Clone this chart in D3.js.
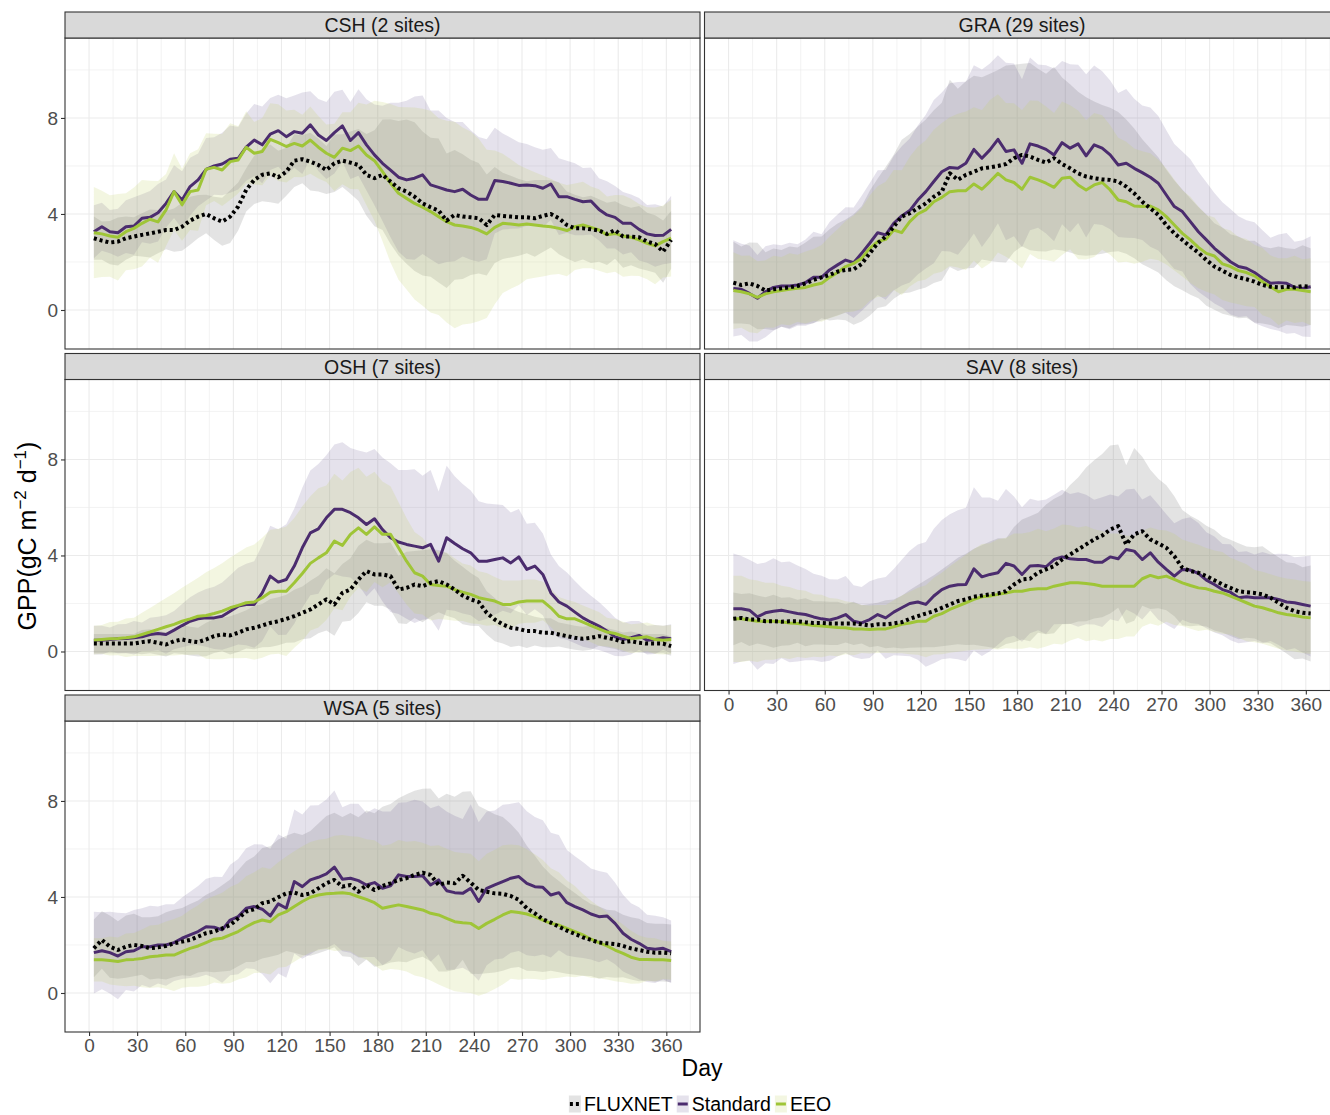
<!DOCTYPE html>
<html>
<head>
<meta charset="utf-8">
<script src="https://cdn.jsdelivr.net/npm/d3@7"></script>
<style>
body { margin: 0; background: #fff; }
svg text { font-family: "Liberation Sans", Arial, Helvetica, sans-serif; }
</style>
</head>
<body>
<div id="chart"></div>
<script>
// day of year, centre of each 5-day composite
const days = [3,8,13,18,23,28,33,38,43,48,53,58,63,68,73,78,83,88,93,98,103,108,113,118,123,128,133,138,143,148,153,158,163,168,173,178,
  183,188,193,198,203,208,213,218,223,228,233,238,243,248,253,258,263,268,273,278,283,288,293,298,303,308,313,318,323,328,333,338,343,348,353,358,363];

const xTicks = [0,30,60,90,120,150,180,210,240,270,300,330,360];
const yTicks = [0,4,8];
const panelNames = ["CSH (2 sites)", "GRA (29 sites)", "OSH (7 sites)", "SAV (8 sites)", "WSA (5 sites)"];
const seriesNames = ["FLUXNET", "Standard", "EEO"];

// ---- CSH ----
const csh_flux = [2.99,2.89,2.81,2.85,2.99,3.06,3.13,3.19,3.26,3.33,3.33,3.47,3.72,3.89,4.0,3.82,3.68,3.89,4.31,5.0,5.42,5.63,5.69,5.53,5.76,6.22,6.28,6.18,6.04,5.83,6.11,6.22,6.14,6.04,5.63,5.49,
  5.63,5.35,5.07,4.93,4.72,4.44,4.28,4.14,3.72,3.96,3.89,3.86,3.82,3.54,3.96,3.92,3.89,3.86,3.86,3.82,3.92,4.0,3.82,3.54,3.4,3.4,3.36,3.31,3.17,3.33,3.06,3.06,3.03,2.85,2.75,2.43,2.92];
const csh_std = [3.26,3.47,3.26,3.22,3.47,3.5,3.82,3.86,4.05,4.44,4.93,4.58,5.14,5.42,5.86,6.0,6.08,6.28,6.32,6.78,7.08,6.88,7.33,7.47,7.22,7.43,7.36,7.71,7.29,7.06,7.39,7.67,7.06,7.39,6.88,6.46,
  6.11,5.83,5.53,5.42,5.49,5.63,5.21,5.11,5.0,4.93,5.03,4.79,4.61,4.61,5.39,5.35,5.28,5.19,5.21,5.18,5.07,5.25,4.72,4.72,4.61,4.51,4.54,4.19,3.96,3.86,3.61,3.61,3.36,3.17,3.1,3.11,3.36];
const csh_eeo = [3.22,3.17,3.08,3.03,3.26,3.4,3.61,3.78,3.67,4.17,4.93,4.38,4.93,5.0,5.86,5.94,5.83,6.18,6.25,6.78,6.53,6.6,7.11,6.97,6.81,6.94,6.83,7.08,6.78,6.53,6.36,6.74,6.64,6.83,6.46,6.22,
  5.76,5.28,4.86,4.65,4.44,4.28,4.1,3.89,3.68,3.54,3.5,3.44,3.33,3.17,3.44,3.61,3.58,3.54,3.58,3.54,3.5,3.47,3.4,3.31,3.47,3.54,3.44,3.33,3.13,3.19,3.08,3.03,2.92,2.78,2.67,2.85,2.99];
const csh_flux_sd = [0.9,0.8,0.9,1.0,0.9,0.8,0.9,1.0,0.9,0.8,0.9,1.0, 1.0,0.9,0.8,0.9,1.0,1.1,1.0,0.9,1.0,1.1,1.2,1.1,
  1.0,1.1,1.0,1.2,1.1,1.0,1.2,1.1,1.3,1.5,1.7,2.0, 2.3,2.6,2.8,3.0,3.1,3.0,2.9,3.0,2.8,2.7,2.6,2.4,
  2.3,2.1,2.0,1.8,1.7,1.6,1.5,1.6,1.5,1.4,1.5,1.4, 1.4,1.3,1.4,1.3,1.3,1.2,1.3,1.2,1.3,1.2,1.2,1.3,1.2];
const csh_std_sd = [1.1,1.0,0.9,1.0,1.1,1.2,1.0,1.1,1.2,1.0,1.1,1.2, 1.2,1.1,1.3,1.2,1.3,1.4,1.3,1.4,1.5,1.6,1.5,1.5,
  1.6,1.5,1.7,1.4,1.5,1.6,1.7,1.5,1.6,1.8,1.9,2.1, 2.4,2.8,3.1,3.3,3.4,3.3,3.1,3.2,3.0,2.9,2.8,2.7,
  2.6,2.5,2.2,2.0,1.9,1.8,1.7,1.6,1.6,1.5,1.6,1.5, 1.5,1.4,1.4,1.3,1.4,1.3,1.3,1.2,1.3,1.2,1.3,1.2,1.4];
const csh_eeo_sd = [1.9,1.8,1.7,1.8,1.6,1.7,1.8,1.6,1.7,1.5,1.6,1.5, 1.6,1.7,1.5,1.4,1.5,1.6,1.4,1.5,1.3,1.4,1.5,1.6,
  1.5,1.4,1.3,1.4,1.3,1.2,1.4,1.5,1.6,1.8,2.1,2.5, 2.9,3.3,3.6,3.8,4.0,4.1,4.2,4.1,4.2,4.3,4.1,4.0,
  3.8,3.5,3.2,2.9,2.7,2.5,2.3,2.2,2.1,2.0,1.9,1.9, 1.8,1.8,1.7,1.7,1.6,1.6,1.7,1.6,1.5,1.5,1.6,1.5,1.6];

// ---- GRA ----
const gra_flux = [1.14,1.04,1.11,1.0,0.81,0.86,0.9,0.94,1.0,1.11,1.25,1.36,1.46,1.6,1.67,1.69,1.92,2.36,2.78,3.06,3.47,3.89,4.03,4.24,4.44,4.72,4.93,5.69,5.42,5.63,5.76,5.9,5.94,6.0,6.08,6.32,
  6.46,6.39,6.25,6.14,6.32,6.08,5.9,5.69,5.56,5.49,5.44,5.42,5.35,5.14,4.86,4.51,4.24,3.96,3.54,3.19,2.92,2.64,2.39,2.08,1.81,1.64,1.46,1.36,1.28,1.18,1.04,0.97,0.94,0.97,0.94,1.0,0.97];
const gra_std = [0.9,0.86,0.69,0.49,0.76,0.94,1.0,1.0,1.04,1.14,1.36,1.36,1.67,1.88,2.08,1.97,2.36,2.78,3.22,3.13,3.61,3.92,4.14,4.58,4.93,5.35,5.76,5.94,5.9,6.11,6.69,6.32,6.67,7.11,6.6,6.67,
  6.11,6.92,6.83,6.69,6.46,6.97,6.74,6.92,6.42,6.88,6.74,6.46,6.04,6.11,5.9,5.72,5.53,5.28,4.79,4.31,4.1,3.68,3.26,2.92,2.57,2.29,2.01,1.81,1.74,1.56,1.32,1.11,1.14,1.11,0.94,0.9,0.97];
const gra_eeo = [0.81,0.76,0.67,0.53,0.67,0.76,0.81,0.86,0.9,0.94,1.04,1.11,1.36,1.56,1.81,1.94,2.15,2.57,2.85,2.94,3.33,3.22,3.68,4.0,4.17,4.51,4.69,4.93,4.97,4.97,5.25,5.03,5.35,5.69,5.42,5.31,
  5.03,5.53,5.42,5.28,5.11,5.49,5.53,5.21,5.0,5.21,5.31,5.0,4.58,4.51,4.33,4.31,4.33,4.17,3.89,3.54,3.19,2.92,2.61,2.36,2.25,1.92,1.81,1.64,1.56,1.42,1.18,0.97,0.76,0.86,0.86,0.81,0.76];
const gra_flux_sd = [1.7,1.6,1.7,1.8,1.6,1.7,1.6,1.7,1.6,1.7,1.8,1.7, 1.9,2.0,2.1,2.3,2.4,2.6,2.7,2.9,3.0,3.2,3.3,3.4,
  3.5,3.6,3.7,3.9,3.8,3.9,4.0,3.8,3.9,4.0,4.1,3.9, 3.8,3.9,3.8,3.7,3.8,3.6,3.5,3.4,3.3,3.2,3.1,3.0,
  2.9,2.8,2.7,2.6,2.5,2.4,2.3,2.2,2.1,2.0,1.9,1.9, 1.8,1.8,1.7,1.7,1.6,1.7,1.6,1.6,1.7,1.6,1.6,1.7,1.6];
const gra_std_sd = [2.0,1.9,2.0,1.8,1.9,1.8,1.7,1.8,1.7,1.8,1.9,1.8, 2.0,2.1,2.2,2.3,2.4,2.5,2.6,2.7,2.8,2.9,3.0,3.1,
  3.2,3.4,3.3,3.5,3.6,3.4,3.5,3.7,3.6,3.5,3.7,3.6, 3.5,3.6,3.4,3.5,3.6,3.4,3.5,3.3,3.4,3.3,3.2,3.1,
  3.0,3.1,2.9,2.8,2.9,2.8,2.7,2.6,2.5,2.6,2.5,2.4, 2.3,2.2,2.2,2.1,2.0,2.1,2.0,1.9,2.0,2.1,1.9,2.0,2.1];
const gra_eeo_sd = [1.6,1.5,1.6,1.5,1.4,1.5,1.4,1.5,1.4,1.5,1.5,1.6, 1.7,1.8,1.9,2.0,2.1,2.2,2.3,2.4,2.5,2.6,2.7,2.8,
  2.9,3.0,3.1,3.1,3.2,3.3,3.2,3.3,3.4,3.3,3.2,3.3, 3.3,3.2,3.3,3.2,3.1,3.2,3.0,3.1,2.9,3.0,2.8,2.7,
  2.6,2.5,2.4,2.3,2.2,2.1,2.0,1.9,1.8,1.8,1.7,1.6, 1.6,1.5,1.5,1.4,1.4,1.3,1.4,1.3,1.4,1.3,1.4,1.3,1.4];

// ---- OSH ----
const osh_flux = [0.33,0.33,0.33,0.33,0.33,0.33,0.39,0.43,0.36,0.29,0.43,0.5,0.43,0.39,0.5,0.64,0.71,0.67,0.78,0.92,0.99,1.08,1.19,1.26,1.36,1.47,1.61,1.75,1.96,2.17,1.96,2.44,2.58,3.0,3.35,3.21,
  3.21,3.14,2.58,2.65,2.79,2.72,2.86,2.93,2.79,2.58,2.33,2.17,2.06,1.61,1.33,1.13,0.99,0.94,0.85,0.85,0.78,0.78,0.71,0.64,0.57,0.53,0.57,0.64,0.57,0.5,0.39,0.43,0.36,0.33,0.33,0.33,0.22];
const osh_std = [0.47,0.47,0.5,0.53,0.54,0.57,0.61,0.71,0.75,0.71,0.89,1.08,1.26,1.36,1.4,1.4,1.47,1.68,1.89,1.96,1.96,2.44,3.14,2.89,3.0,3.56,4.32,4.94,5.11,5.57,5.92,5.92,5.78,5.57,5.29,5.53,
  5.08,4.74,4.56,4.46,4.39,4.32,4.46,3.76,4.74,4.5,4.28,4.11,3.76,3.76,3.83,3.9,3.69,3.94,3.42,3.56,3.21,2.44,2.06,1.89,1.64,1.4,1.22,1.06,0.85,0.61,0.5,0.57,0.67,0.47,0.5,0.57,0.53];
const osh_eeo = [0.47,0.5,0.53,0.54,0.57,0.61,0.71,0.81,0.92,1.03,1.13,1.26,1.36,1.47,1.5,1.58,1.68,1.82,1.92,2.03,2.06,2.24,2.47,2.51,2.51,2.86,3.25,3.67,3.9,4.11,4.6,4.42,4.88,5.15,4.88,5.19,
  4.88,4.88,4.32,3.76,3.28,3.14,2.79,2.75,2.72,2.58,2.47,2.38,2.24,2.17,2.1,1.96,1.96,2.06,2.1,2.1,2.1,1.82,1.47,1.36,1.36,1.22,1.08,0.94,0.81,0.75,0.64,0.53,0.57,0.61,0.5,0.47,0.5];
const osh_flux_sd = [0.4,0.4,0.4,0.4,0.4,0.4,0.5,0.5,0.5,0.5,0.5,0.6, 0.6,0.6,0.7,0.7,0.7,0.8,0.8,0.8,0.9,0.9,1.0,1.0,
  1.0,1.1,1.1,1.2,1.2,1.3,1.3,1.2,1.3,1.4,1.3,1.3, 1.3,1.4,1.4,1.5,1.4,1.5,1.4,1.3,1.3,1.2,1.2,1.1,
  1.0,0.9,0.9,0.8,0.8,0.7,0.7,0.6,0.6,0.6,0.5,0.5, 0.5,0.5,0.5,0.4,0.4,0.4,0.4,0.4,0.4,0.4,0.4,0.4,0.4];
const osh_std_sd = [0.6,0.6,0.5,0.6,0.6,0.7,0.6,0.7,0.7,0.8,0.8,0.9, 1.0,1.1,1.2,1.3,1.4,1.5,1.6,1.7,1.8,2.0,2.1,2.2,
  2.3,2.4,2.5,2.6,2.7,2.6,2.7,2.8,2.7,2.8,3.0,2.9, 3.0,3.1,3.0,3.1,3.2,3.0,3.1,2.9,3.0,2.8,2.7,2.6,
  2.5,2.4,2.3,2.2,2.1,2.0,1.9,1.8,1.7,1.6,1.5,1.4, 1.3,1.2,1.1,1.0,0.9,0.8,0.7,0.7,0.6,0.6,0.6,0.5,0.6];
const osh_eeo_sd = [0.6,0.6,0.7,0.7,0.8,0.8,0.9,1.0,1.1,1.2,1.3,1.4, 1.5,1.6,1.8,1.9,2.0,2.1,2.2,2.3,2.4,2.5,2.6,2.6,
  2.7,2.7,2.8,2.8,2.9,2.8,2.8,2.7,2.6,2.5,2.4,2.3, 2.2,2.0,1.9,1.8,1.7,1.6,1.5,1.4,1.4,1.3,1.2,1.2,
  1.1,1.1,1.0,1.0,1.0,0.9,0.9,0.9,0.8,0.8,0.8,0.8, 0.7,0.7,0.7,0.7,0.6,0.6,0.6,0.6,0.6,0.6,0.6,0.6,0.6];

// ---- SAV ----
const sav_flux = [1.36,1.4,1.33,1.33,1.26,1.26,1.24,1.26,1.26,1.22,1.19,1.19,1.17,1.17,1.17,1.17,1.13,1.08,1.13,1.13,1.17,1.22,1.36,1.47,1.58,1.68,1.82,1.96,2.1,2.17,2.28,2.33,2.38,2.42,2.51,2.79,
  3.0,3.03,3.28,3.42,3.56,3.83,4.04,4.25,4.46,4.67,4.83,5.08,5.22,4.46,4.88,5.01,4.67,4.5,4.32,3.97,3.49,3.35,3.28,3.14,2.97,2.79,2.65,2.51,2.47,2.44,2.38,2.24,2.03,1.82,1.68,1.61,1.58];
const sav_std = [1.78,1.78,1.72,1.44,1.61,1.68,1.72,1.65,1.58,1.54,1.44,1.36,1.31,1.4,1.54,1.26,1.19,1.33,1.54,1.4,1.64,1.82,2.0,2.06,1.96,2.31,2.58,2.72,2.78,2.79,3.44,3.11,3.21,3.28,3.67,3.56,
  3.21,3.56,3.58,3.53,3.83,3.94,3.86,3.83,3.83,3.72,3.72,3.94,3.86,4.25,4.18,3.83,4.11,3.72,3.42,3.14,3.42,3.39,3.25,2.97,2.79,2.58,2.47,2.24,2.28,2.24,2.24,2.24,2.17,2.06,2.03,1.96,1.89];
const sav_eeo = [1.36,1.36,1.31,1.26,1.26,1.26,1.24,1.19,1.17,1.13,1.08,1.06,1.03,1.0,0.99,0.94,0.94,0.92,0.94,0.94,1.03,1.13,1.19,1.26,1.26,1.47,1.58,1.75,1.89,2.03,2.17,2.28,2.31,2.38,2.44,2.51,
  2.51,2.58,2.61,2.61,2.72,2.79,2.86,2.86,2.83,2.79,2.72,2.72,2.72,2.72,2.72,3.03,3.17,3.07,3.14,3.0,2.86,2.75,2.65,2.61,2.51,2.44,2.31,2.17,2.03,1.89,1.82,1.72,1.61,1.54,1.5,1.44,1.4];
const sav_flux_sd = [1.1,1.0,1.1,1.0,1.0,1.1,1.0,1.0,0.9,1.0,0.9,0.9, 0.9,0.9,0.8,0.9,0.8,0.9,0.9,1.0,1.0,1.1,1.2,1.3,
  1.4,1.5,1.6,1.7,1.8,1.9,2.0,2.1,2.2,2.3,2.2,2.4, 2.5,2.6,2.5,2.7,2.8,2.7,2.9,3.0,3.2,3.3,3.4,3.5,
  3.4,3.3,3.6,3.1,2.9,2.7,2.6,2.5,2.4,2.3,2.2,2.1, 2.1,2.0,2.0,2.0,1.9,1.9,2.0,1.9,1.9,1.9,2.0,1.9,2.0];
const sav_std_sd = [2.3,2.2,2.1,2.2,2.1,2.2,2.0,2.1,2.0,1.9,1.8,1.8, 1.7,1.6,1.6,1.5,1.5,1.6,1.5,1.7,1.8,2.0,2.2,2.4,
  2.6,2.8,2.9,3.0,3.1,3.2,3.4,3.3,3.2,3.0,3.1,2.9, 2.8,2.8,2.7,2.8,2.7,2.8,2.7,2.8,2.7,2.6,2.7,2.6,
  2.6,2.5,2.6,2.5,2.4,2.4,2.3,2.2,2.1,2.2,2.1,2.0, 2.0,1.9,2.0,1.9,1.9,1.8,1.9,1.8,1.9,2.0,1.9,2.0,2.1];
const sav_eeo_sd = [1.8,1.8,1.7,1.7,1.6,1.6,1.5,1.5,1.4,1.4,1.3,1.3, 1.2,1.2,1.1,1.1,1.0,1.0,1.0,1.0,1.1,1.2,1.3,1.4,
  1.5,1.6,1.7,1.8,1.9,2.0,2.1,2.2,2.2,2.3,2.3,2.4, 2.4,2.4,2.5,2.4,2.4,2.5,2.4,2.3,2.4,2.3,2.3,2.2,
  2.2,2.1,2.1,2.0,2.0,2.0,1.9,1.9,1.8,1.8,1.8,1.7, 1.7,1.7,1.6,1.6,1.6,1.5,1.5,1.5,1.5,1.5,1.5,1.5,1.5];

// ---- WSA ----
const wsa_flux = [1.86,2.21,1.93,1.79,1.93,2.0,1.96,1.86,1.9,1.96,2.07,2.14,2.21,2.35,2.49,2.56,2.69,2.83,3.11,3.39,3.49,3.74,3.81,3.99,4.15,4.18,4.08,4.15,4.36,4.57,4.71,4.43,4.5,4.22,4.5,4.29,
  4.46,4.57,4.71,4.78,4.92,5.01,4.92,4.5,4.6,4.57,4.88,4.6,4.29,4.22,4.15,4.13,4.04,3.88,3.53,3.32,3.07,2.93,2.76,2.6,2.46,2.32,2.21,2.1,2.07,2.04,1.96,1.86,1.79,1.72,1.68,1.68,1.65];
const wsa_std = [1.68,1.76,1.68,1.54,1.72,1.76,1.93,1.93,2.0,2.0,2.1,2.28,2.42,2.56,2.76,2.74,2.63,3.04,3.18,3.53,3.6,3.49,3.21,3.71,3.53,4.64,4.43,4.71,4.82,4.96,5.24,4.74,4.78,4.68,4.5,4.6,
  4.36,4.46,4.92,4.85,4.85,4.88,4.5,4.71,4.26,4.18,4.15,4.36,3.81,4.36,4.5,4.64,4.78,4.85,4.57,4.43,4.4,4.08,4.18,3.76,3.6,3.46,3.29,3.18,3.21,2.9,2.49,2.24,2.07,1.86,1.82,1.86,1.72];
const wsa_eeo = [1.38,1.38,1.35,1.31,1.38,1.4,1.44,1.51,1.54,1.58,1.58,1.72,1.86,1.96,2.1,2.24,2.28,2.42,2.56,2.76,2.93,3.04,2.97,3.25,3.39,3.6,3.81,3.99,4.08,4.13,4.15,4.18,4.13,4.01,3.9,3.76,
  3.53,3.6,3.67,3.6,3.53,3.46,3.32,3.25,3.11,2.97,2.93,2.9,2.69,2.9,3.07,3.25,3.39,3.35,3.29,3.18,3.04,2.9,2.83,2.69,2.56,2.42,2.24,2.1,1.96,1.79,1.65,1.49,1.4,1.4,1.38,1.38,1.35];
const wsa_flux_sd = [1.2,1.2,1.3,1.2,1.3,1.3,1.2,1.3,1.3,1.4,1.4,1.4, 1.5,1.5,1.6,1.7,1.8,1.9,2.0,2.1,2.2,2.3,2.3,2.4,
  2.4,2.5,2.5,2.6,2.7,2.8,2.8,2.9,3.0,3.1,3.1,3.2, 3.3,3.3,3.4,3.5,3.5,3.5,3.6,3.6,3.7,3.6,3.5,3.8,
  3.5,3.4,3.3,3.2,3.0,2.8,2.6,2.4,2.2,2.0,1.9,1.8, 1.7,1.6,1.5,1.5,1.4,1.4,1.3,1.3,1.3,1.2,1.2,1.2,1.2];
const wsa_std_sd = [1.7,1.6,1.7,1.8,1.6,1.7,1.6,1.7,1.6,1.7,1.6,1.7, 1.8,1.9,2.0,2.1,2.2,2.3,2.4,2.5,2.6,2.7,2.8,2.9,
  2.9,3.0,3.0,3.1,3.0,3.1,3.2,3.0,3.1,3.2,3.0,3.1, 3.2,3.1,3.0,3.1,3.2,3.1,3.2,3.1,3.3,3.2,3.1,3.5,
  3.3,3.2,3.1,3.2,3.1,3.1,3.0,2.9,2.8,2.6,2.4,2.2, 2.1,2.0,1.9,1.9,1.8,1.7,1.6,1.5,1.5,1.4,1.4,1.3,1.3];
const wsa_eeo_sd = [0.9,0.9,1.0,1.0,1.1,1.1,1.2,1.3,1.3,1.4,1.5,1.5, 1.6,1.7,1.8,1.8,1.9,2.0,2.0,2.1,2.1,2.2,2.2,2.2,
  2.3,2.3,2.3,2.3,2.3,2.3,2.4,2.4,2.4,2.5,2.5,2.6, 2.6,2.6,2.7,2.7,2.8,2.8,2.8,2.9,2.9,2.9,2.9,2.9,
  2.8,2.9,2.9,2.9,2.8,2.8,2.7,2.6,2.5,2.3,2.2,2.0, 1.9,1.7,1.6,1.5,1.4,1.3,1.2,1.1,1.0,0.9,0.9,0.8,0.8];

// build the table the drawing code uses
const panelData = [
  [csh_flux, csh_flux_sd, csh_std, csh_std_sd, csh_eeo, csh_eeo_sd],
  [gra_flux, gra_flux_sd, gra_std, gra_std_sd, gra_eeo, gra_eeo_sd],
  [osh_flux, osh_flux_sd, osh_std, osh_std_sd, osh_eeo, osh_eeo_sd],
  [sav_flux, sav_flux_sd, sav_std, sav_std_sd, sav_eeo, sav_eeo_sd],
  [wsa_flux, wsa_flux_sd, wsa_std, wsa_std_sd, wsa_eeo, wsa_eeo_sd]
].map(arr => seriesNames.map((s, k) => ({
  key: s,
  values: days.map((d, i) => ({ day: d, mean: arr[2 * k][i], sd: arr[2 * k + 1][i] }))
})));

// styles
const style = {
  FLUXNET:  { line: "#000000", fill: "#808080", alpha: 0.22, width: 4, dash: "3,3" },
  Standard: { line: "#4b2c6e", fill: "#5b4a8b", alpha: 0.16, width: 3, dash: null },
  EEO:      { line: "#9fc537", fill: "#c2d46a", alpha: 0.20, width: 3, dash: null }
};

const W = 1330, H = 1115;
const panelW = 635, panelH = 311, stripH = 26;
const colX = [65, 704.5];
const rowY = [38, 379.5, 721];

const svg = d3.select("#chart").append("svg")
  .attr("width", W)
  .attr("height", H)
  .style("display", "block");

const x = d3.scaleLinear().domain([-15, 381]).range([0, panelW]);
const y = d3.scaleLinear().domain([-1.625, 11.33]).range([panelH, 0]);

const area = d3.area()
  .x(d => x(d.day))
  .y0(d => y(d.mean - d.sd))
  .y1(d => y(d.mean + d.sd));

const line = d3.line()
  .x(d => x(d.day))
  .y(d => y(d.mean));

panelNames.forEach((name, p) => {
  const col = p % 2, row = Math.floor(p / 2);
  const g = svg.append("g")
    .attr("transform", "translate(" + colX[col] + "," + rowY[row] + ")");

  svg.append("clipPath").attr("id", "clip" + p)
    .append("rect").attr("width", panelW).attr("height", panelH);

  // grid
  const grid = g.append("g");
  d3.range(15, 381, 30).forEach(v => {
    grid.append("line").attr("x1", x(v)).attr("x2", x(v)).attr("y1", 0).attr("y2", panelH)
      .attr("stroke", "#ebebeb").attr("stroke-width", 0.6);
  });
  [2, 6, 10].forEach(v => {
    grid.append("line").attr("x1", 0).attr("x2", panelW).attr("y1", y(v)).attr("y2", y(v))
      .attr("stroke", "#ebebeb").attr("stroke-width", 0.6);
  });
  xTicks.forEach(v => {
    grid.append("line").attr("x1", x(v)).attr("x2", x(v)).attr("y1", 0).attr("y2", panelH)
      .attr("stroke", "#ebebeb").attr("stroke-width", 1.1);
  });
  yTicks.forEach(v => {
    grid.append("line").attr("x1", 0).attr("x2", panelW).attr("y1", y(v)).attr("y2", y(v))
      .attr("stroke", "#ebebeb").attr("stroke-width", 1.1);
  });

  const plot = g.append("g").attr("clip-path", "url(#clip" + p + ")");
  const data = panelData[p];

  // ribbons
  data.forEach(s => {
    plot.append("path")
      .datum(s.values)
      .attr("d", area)
      .attr("fill", style[s.key].fill)
      .attr("fill-opacity", style[s.key].alpha);
  });

  // lines: Standard, EEO, then FLUXNET on top
  [1, 2, 0].forEach(k => {
    const s = data[k], st = style[s.key];
    plot.append("path")
      .datum(s.values)
      .attr("d", line)
      .attr("fill", "none")
      .attr("stroke", st.line)
      .attr("stroke-width", st.width)
      .attr("stroke-linejoin", "round")
      .attr("stroke-dasharray", st.dash);
  });

  // panel border
  g.append("rect").attr("width", panelW).attr("height", panelH)
    .attr("fill", "none").attr("stroke", "#333333").attr("stroke-width", 1.1);

  // strip
  g.append("rect").attr("x", 0).attr("y", -stripH).attr("width", panelW).attr("height", stripH)
    .attr("fill", "#d9d9d9").attr("stroke", "#333333").attr("stroke-width", 1.1);
  g.append("text")
    .attr("x", panelW / 2).attr("y", -stripH / 2)
    .attr("dy", "0.36em")
    .attr("text-anchor", "middle")
    .style("font-size", "19.5px")
    .style("fill", "#1a1a1a")
    .text(name);

  // y axis on left column
  if (col === 0) {
    const ya = g.append("g")
      .call(d3.axisLeft(y).tickValues(yTicks).tickSize(4).tickPadding(3));
    ya.select(".domain").remove();
    ya.selectAll("line").attr("stroke", "#333333").attr("stroke-width", 1.1);
    ya.selectAll("text").style("font-size", "19px").style("fill", "#4d4d4d")
      .style("font-family", "'Liberation Sans', Arial, sans-serif");
  }

  // x axis under the bottom panel of each column
  if (p === 3 || p === 4) {
    const xa = g.append("g")
      .attr("transform", "translate(0," + panelH + ")")
      .call(d3.axisBottom(x).tickValues(xTicks).tickSize(4).tickPadding(3));
    xa.select(".domain").remove();
    xa.selectAll("line").attr("stroke", "#333333").attr("stroke-width", 1.1);
    xa.selectAll("text").style("font-size", "19px").style("fill", "#4d4d4d")
      .style("font-family", "'Liberation Sans', Arial, sans-serif");
  }
});

// axis titles
svg.append("text")
  .attr("x", 702).attr("y", 1076)
  .attr("text-anchor", "middle")
  .style("font-size", "23px")
  .style("fill", "#000")
  .text("Day");

const yt = svg.append("text")
  .attr("transform", "translate(36,536) rotate(-90)")
  .attr("text-anchor", "middle")
  .style("font-size", "25px")
  .style("fill", "#000");
yt.append("tspan").text("GPP(gC m");
yt.append("tspan").attr("dy", -10).style("font-size", "17px").text("\u22122");
yt.append("tspan").attr("dy", 10).text(" d");
yt.append("tspan").attr("dy", -10).style("font-size", "17px").text("\u22121");
yt.append("tspan").attr("dy", 10).text(")");

// legend
const legend = svg.append("g");
let lx = 0;
const keyW = 12, keyH = 17;
seriesNames.forEach(s => {
  const st = style[s];
  const item = legend.append("g").attr("transform", "translate(" + lx + ",0)");
  item.append("rect").attr("x", 0).attr("y", -keyH / 2).attr("width", keyW).attr("height", keyH)
    .attr("fill", st.fill).attr("fill-opacity", st.alpha);
  item.append("line").attr("x1", 1).attr("x2", keyW - 1).attr("y1", 0).attr("y2", 0)
    .attr("stroke", st.line).attr("stroke-width", st.width)
    .attr("stroke-dasharray", st.dash);
  const t = item.append("text").attr("x", keyW + 3).attr("y", 0).attr("dy", "0.36em")
    .style("font-size", "19.5px").style("fill", "#000").text(s);
  lx += keyW + 3 + t.node().getComputedTextLength() + 4;
});
legend.attr("transform", "translate(" + (702 - lx / 2) + ",1104)");
</script>
</body>
</html>
